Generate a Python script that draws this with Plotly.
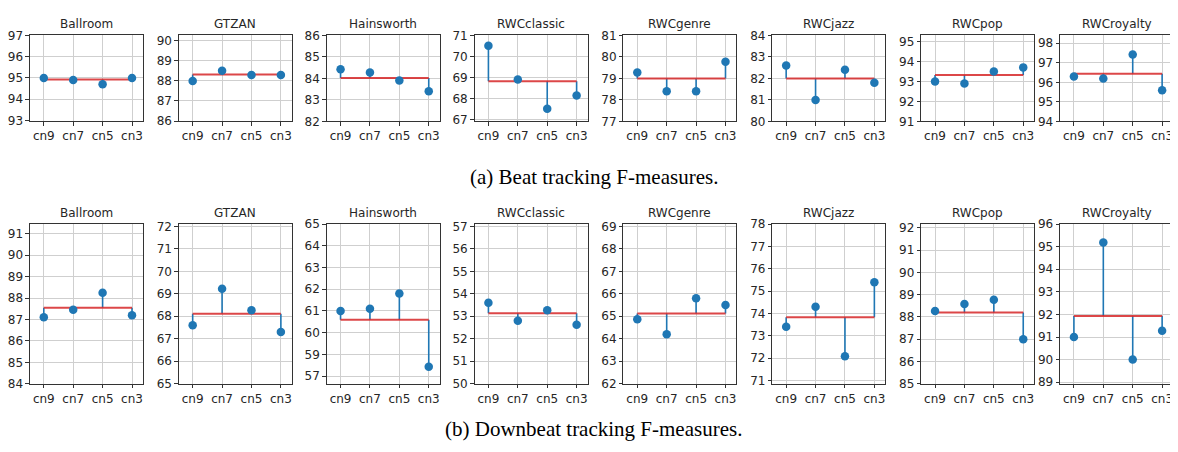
import math
import plotly.graph_objects as go

# ---------------- data ----------------
categories = ["cn9", "cn7", "cn5", "cn3"]
datasets = ["Ballroom", "GTZAN", "Hainsworth", "RWCclassic",
            "RWCgenre", "RWCjazz", "RWCpop", "RWCroyalty"]

# (a) Beat tracking F-measures
beat_values = [
    [95.0, 94.9, 94.7, 95.0],
    [88.0, 88.5, 88.3, 88.3],
    [84.42, 84.27, 83.9, 83.4],
    [70.5, 68.9, 67.5, 68.14],
    [79.27, 78.4, 78.4, 79.77],
    [82.6, 81.0, 82.4, 81.8],
    [93.0, 92.9, 93.5, 93.7],
    [96.3, 96.2, 97.42, 95.6],
]
beat_baseline = [94.93, 88.32, 84.02, 68.82, 79.0, 82.0, 93.32, 96.44]
beat_yrange = [
    [92.96, 97.0], [85.98, 90.27], [82.0, 86.0], [66.9, 71.0],
    [77.0, 81.0], [80.0, 84.0], [91.0, 95.3], [94.0, 98.4],
]

# (b) Downbeat tracking F-measures
downbeat_values = [
    [87.1, 87.45, 88.25, 87.2],
    [67.6, 69.22, 68.27, 67.3],
    [61.0, 61.1, 61.8, 58.43],
    [53.6, 52.8, 53.27, 52.62],
    [64.87, 64.2, 65.8, 65.5],
    [73.4, 74.3, 72.08, 75.4],
    [88.27, 88.58, 88.77, 87.0],
    [91.0, 95.18, 90.0, 91.28],
]
downbeat_baseline = [87.55, 68.11, 60.6, 53.13, 65.12, 73.83, 88.2, 91.93]
downbeat_yrange = [
    [84.0, 91.45], [65.0, 72.1], [57.65, 65.0], [50.0, 57.1],
    [62.0, 69.1], [70.85, 78.0], [85.0, 92.17], [88.93, 96.0],
]
# the Hainsworth downbeat axis labels as printed in the original
hains_db_tickvals = [58, 59, 60, 61, 62, 63, 64, 65]
hains_db_ticktext = ["57", "59", "60", "61", "62", "63", "64", "65"]

caption_a = "(a) Beat tracking F-measures."
caption_b = "(b) Downbeat tracking F-measures."

# ---------------- layout geometry ----------------
# the page body has an 8px margin; keep the figure inside the window
OFF = 8
W, H = 1170, 436
panel_left_px = [29, 178, 326, 474, 623, 772, 921, 1060]   # window pixels
panel_w_px = 113
rows_px = [(29, 118), (224, 389)]       # (top, bottom) of plot frames
title_y_px = [17, 213]
caption_y_px = [175, 436]


def px_x(px):
    return (px - OFF) / W


def px_y(py):
    return 1 - (py - OFF) / H


BLUE = "#1f77b4"
RED = "rgba(214,39,40,0.85)"
TXT = "#262626"
GRID = "#cfcfcf"
FS = 12

fig = go.Figure()
layout = dict(
    width=W, height=H, margin=dict(l=0, r=0, t=0, b=0),
    paper_bgcolor="white", plot_bgcolor="white", showlegend=False,
    font=dict(family="DejaVu Sans", size=FS, color=TXT),
)
annotations = []

all_rows = [
    (beat_values, beat_baseline, beat_yrange),
    (downbeat_values, downbeat_baseline, downbeat_yrange),
]

idx = 0
for r, (vals_all, base_all, yr_all) in enumerate(all_rows):
    top, bot = rows_px[r]
    for c in range(8):
        idx += 1
        xa = "x" if idx == 1 else f"x{idx}"
        ya = "y" if idx == 1 else f"y{idx}"
        vals = vals_all[c]
        base = base_all[c]
        xs = list(range(len(categories)))

        # stems
        sx, sy = [], []
        for i, v in zip(xs, vals):
            sx += [i, i, None]
            sy += [base, v, None]
        fig.add_trace(go.Scatter(x=sx, y=sy, mode="lines",
                                 line=dict(color=BLUE, width=1.6),
                                 xaxis=xa, yaxis=ya, hoverinfo="skip"))
        # baseline (mean)
        fig.add_trace(go.Scatter(x=[xs[0], xs[-1]], y=[base, base], mode="lines",
                                 line=dict(color=RED, width=2),
                                 xaxis=xa, yaxis=ya, hoverinfo="skip"))
        # markers
        fig.add_trace(go.Scatter(x=xs, y=vals, mode="markers",
                                 marker=dict(color=BLUE, size=8.5),
                                 xaxis=xa, yaxis=ya))

        x0 = px_x(panel_left_px[c])
        x1 = min(px_x(panel_left_px[c] + panel_w_px), 1.0)
        y0 = px_y(bot)
        y1 = px_y(top)
        xkey = "xaxis" if idx == 1 else f"xaxis{idx}"
        ykey = "yaxis" if idx == 1 else f"yaxis{idx}"

        layout[xkey] = dict(
            domain=[x0, x1], anchor=ya, range=[-0.47, 3.37],
            tickmode="array", tickvals=xs, ticktext=categories,
            showgrid=True, gridcolor=GRID, gridwidth=1, zeroline=False,
            showline=True, mirror=True, linecolor="#333", linewidth=1,
            ticks="outside", ticklen=3.5, tickcolor="#333",
            tickfont=dict(size=FS, color=TXT),
        )
        lo, hi = yr_all[c]
        if r == 1 and datasets[c] == "Hainsworth":
            tv, tt = hains_db_tickvals, hains_db_ticktext
        else:
            tv = list(range(math.ceil(lo - 1e-9), math.floor(hi + 1e-9) + 1))
            tt = [str(t) for t in tv]
        layout[ykey] = dict(
            domain=[y0, y1], anchor=xa, range=[lo, hi],
            tickmode="array", tickvals=tv, ticktext=tt,
            showgrid=True, gridcolor=GRID, gridwidth=1, zeroline=False,
            showline=True, mirror=True, linecolor="#333", linewidth=1,
            ticks="outside", ticklen=3.5, tickcolor="#333",
            tickfont=dict(size=FS, color=TXT),
        )
        annotations.append(dict(
            text=datasets[c], xref="paper", yref="paper",
            x=px_x(panel_left_px[c] + panel_w_px / 2),
            y=px_y(title_y_px[r]), xanchor="center", yanchor="middle",
            showarrow=False, font=dict(size=FS, color=TXT, family="DejaVu Sans"),
        ))

for cap, cy in zip([caption_a, caption_b], caption_y_px):
    annotations.append(dict(
        text=cap, xref="paper", yref="paper", x=px_x(593), y=px_y(cy),
        xanchor="center", yanchor="middle", showarrow=False,
        font=dict(size=21, color="black", family="Liberation Serif"),
    ))

layout["annotations"] = annotations
fig.update_layout(**layout)
fig.write_html("out.html")
